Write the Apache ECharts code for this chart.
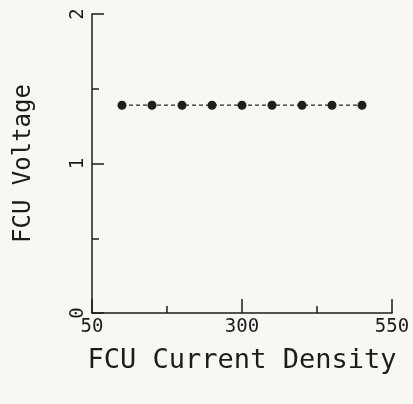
<!DOCTYPE html>
<html><head><meta charset="utf-8">
<script src="https://cdn.jsdelivr.net/npm/echarts@6/dist/echarts.min.js"></script>
<style>html,body{margin:0;padding:0;background:#f7f7f4;}#c{width:413px;height:404px;}</style>
</head><body><div id="c"></div>
<script>
const density = [100, 150, 200, 250, 300, 350, 400, 450, 500];
const voltage = [1.39, 1.39, 1.39, 1.39, 1.39, 1.39, 1.39, 1.39, 1.39];
const xTitle = 'FCU Current Density';
const yTitle = 'FCU Voltage';
const font = 'DejaVu Sans Mono';
const ink = '#1c1c1c';
const chart = echarts.init(document.getElementById('c'));
chart.setOption({
  backgroundColor: '#f7f7f4',
  animation: false,
  grid: {left: 92, right: 21, top: 14, bottom: 91},
  xAxis: {
    type: 'value', min: 50, max: 550, interval: 250,
    name: xTitle, nameLocation: 'middle', nameGap: 34,
    nameTextStyle: {fontFamily: font, fontSize: 27, color: ink},
    axisLine: {lineStyle: {color: ink, width: 1.5}},
    axisTick: {inside: true, length: 14, lineStyle: {color: ink, width: 1.5}},
    minorTick: {show: true, splitNumber: 2, length: 7, lineStyle: {color: ink, width: 1.5}},
    splitLine: {show: false},
    axisLabel: {fontFamily: font, fontSize: 19, color: ink, margin: 5}
  },
  yAxis: {
    type: 'value', min: 0, max: 2, interval: 1,
    name: yTitle, nameLocation: 'middle', nameGap: 56,
    nameTextStyle: {fontFamily: font, fontSize: 24, color: ink},
    axisLine: {lineStyle: {color: ink, width: 1.5}},
    axisTick: {inside: true, length: 12, lineStyle: {color: ink, width: 1.5}},
    minorTick: {show: true, splitNumber: 2, length: 7, lineStyle: {color: ink, width: 1.5}},
    splitLine: {show: false},
    axisLabel: {fontFamily: font, fontSize: 19, color: ink, rotate: 90, margin: 4}
  },
  series: [{
    type: 'line',
    data: density.map((d, i) => [d, voltage[i]]),
    symbol: 'circle', symbolSize: 9,
    itemStyle: {color: '#1e1e1e'},
    lineStyle: {color: '#2a2a2a', width: 1.3, type: [4, 3]}
  }]
});
</script></body></html>
